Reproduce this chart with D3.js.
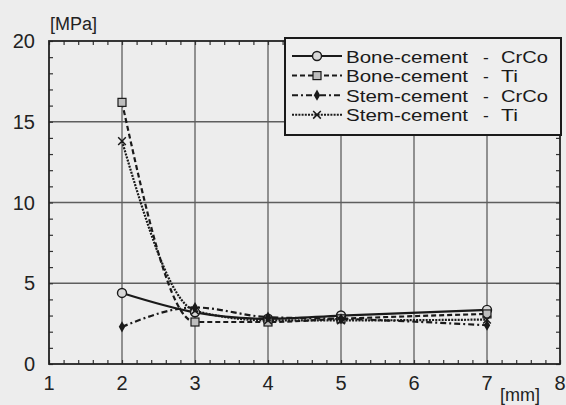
<!DOCTYPE html>
<html>
<head>
<meta charset="utf-8">
<script src="https://cdn.jsdelivr.net/npm/d3@7"></script>
<style>
  body { margin: 0; background: #ededed; }
  svg { display: block; font-family: "Liberation Sans", Arial, sans-serif; }
</style>
</head>
<body>
<svg id="grafico" width="566" height="405"></svg>
<script>
/* Datos */
var distancias = [2, 3, 4, 5, 7]
var boneCrCo = [4.4, 3.2, 2.8, 3.0, 3.35]
var boneTi = [16.2, 2.6, 2.6, 2.8, 3.1]
var stemCrCo = [2.3, 3.5, 2.9, 2.8, 2.4]
var stemTi = [13.8, 3.3, 2.7, 2.7, 2.75]
var ticksX = [1, 2, 3, 4, 5, 6, 7, 8]
var ticksY = [0, 5, 10, 15, 20]
var nombres = ["Bone-cement", "Bone-cement", "Stem-cement", "Stem-cement"]
var materiales = ["CrCo", "Ti", "CrCo", "Ti"]

var series = [
  { valores: boneCrCo, dash: null, marca: "circulo" },
  { valores: boneTi, dash: "5,3", marca: "cuadrado" },
  { valores: stemCrCo, dash: "6,3,2,3", marca: "punto" },
  { valores: stemTi, dash: "2,1.2", marca: "cruz" }
]

var svg = d3.select("#grafico")
var margen = { left: 49, top: 41, right: 560, bottom: 364 }
var x = d3.scaleLinear().domain([1, 8]).range([margen.left, margen.right])
var y = d3.scaleLinear().domain([0, 20]).range([margen.bottom, margen.top])
var colorLinea = "#1a1a1a"

/* Rejilla */
var rejilla = svg.append("g").attr("stroke", "#5e5e5e").attr("stroke-width", 1.3)
rejilla.selectAll("line.vx").data(ticksX.slice(1, -1)).enter().append("line")
  .attr("x1", d => x(d)).attr("x2", d => x(d))
  .attr("y1", margen.top).attr("y2", margen.bottom)
rejilla.selectAll("line.hy").data(ticksY.slice(1, -1)).enter().append("line")
  .attr("y1", d => y(d)).attr("y2", d => y(d))
  .attr("x1", margen.left).attr("x2", margen.right)

/* Ticks menores hacia dentro en los cuatro lados */
var menoresX = d3.range(1, 8.001, 0.2)
var menoresY = d3.range(0, 20.001, 1)
var alto = margen.bottom - margen.top
var ancho = margen.right - margen.left
svg.append("g").attr("transform", "translate(0," + margen.bottom + ")")
  .call(d3.axisBottom(x).tickValues(menoresX).tickSize(-4).tickFormat(""))
svg.append("g").attr("transform", "translate(0," + margen.top + ")")
  .call(d3.axisTop(x).tickValues(menoresX).tickSize(-4).tickFormat(""))
svg.append("g").attr("transform", "translate(" + margen.left + ",0)")
  .call(d3.axisLeft(y).tickValues(menoresY).tickSize(-4).tickFormat(""))
svg.append("g").attr("transform", "translate(" + margen.right + ",0)")
  .call(d3.axisRight(y).tickValues(menoresY).tickSize(-4).tickFormat(""))
svg.selectAll(".domain").remove()
svg.selectAll(".tick line").attr("stroke", "#333").attr("stroke-width", 1.2)

/* Marco */
svg.append("rect")
  .attr("x", margen.left).attr("y", margen.top)
  .attr("width", ancho).attr("height", alto)
  .attr("fill", "none").attr("stroke", "#222").attr("stroke-width", 1.8)

/* Etiquetas de los ejes */
svg.append("g").selectAll("text").data(ticksX).enter().append("text")
  .attr("x", d => x(d)).attr("y", 390)
  .attr("text-anchor", "middle").attr("font-size", 20).attr("fill", "#222")
  .text(d => d)
svg.append("g").selectAll("text").data(ticksY).enter().append("text")
  .attr("x", 35).attr("y", d => y(d) + 7)
  .attr("text-anchor", "end").attr("font-size", 20).attr("fill", "#222")
  .text(d => d)
svg.append("text").attr("x", 50).attr("y", 30).attr("font-size", 18).attr("fill", "#222").text("[MPa]")
svg.append("text").attr("x", 500).attr("y", 401).attr("font-size", 18).attr("fill", "#222").text("[mm]")

/* Marcadores */
function dibujarMarca(g, tipo, cx, cy) {
  if (tipo == "circulo") {
    g.append("circle").attr("cx", cx).attr("cy", cy).attr("r", 4.5)
      .attr("fill", "#d8d8d8").attr("stroke", colorLinea).attr("stroke-width", 1.4)
  } else if (tipo == "cuadrado") {
    g.append("rect").attr("x", cx - 4).attr("y", cy - 4).attr("width", 8).attr("height", 8)
      .attr("fill", "#bdbdbd").attr("stroke", colorLinea).attr("stroke-width", 1.2)
  } else if (tipo == "punto") {
    g.append("path").attr("d", d3.symbol(d3.symbolDiamond, 36)())
      .attr("transform", "translate(" + cx + "," + cy + ")").attr("fill", colorLinea)
  } else {
    g.append("path").attr("d", d3.symbol(d3.symbolX, 40)())
      .attr("transform", "translate(" + cx + "," + cy + ")")
      .attr("fill", "none").attr("stroke", colorLinea).attr("stroke-width", 1.5)
  }
}

/* Lineas */
var linea = d3.line().curve(d3.curveMonotoneX)
  .x((d, i) => x(distancias[i])).y(d => y(d))
series.forEach(s => {
  var g = svg.append("g")
  g.append("path").attr("d", linea(s.valores))
    .attr("fill", "none").attr("stroke", colorLinea).attr("stroke-width", 2.2)
    .attr("stroke-dasharray", s.dash)
  s.valores.forEach((v, i) => dibujarMarca(g, s.marca, x(distancias[i]), y(v)))
})

/* Leyenda */
var leyenda = svg.append("g")
var filaY = 56, pasoFila = 19.6
leyenda.append("rect").attr("x", 285).attr("y", 38).attr("width", 276).attr("height", 97)
  .attr("fill", "#eeeeee").attr("stroke", "#1a1a1a").attr("stroke-width", 2)
series.forEach((s, i) => {
  var yl = filaY + i * pasoFila
  leyenda.append("line").attr("x1", 292).attr("x2", 342).attr("y1", yl).attr("y2", yl)
    .attr("stroke", colorLinea).attr("stroke-width", 2).attr("stroke-dasharray", s.dash)
  dibujarMarca(leyenda, s.marca, 317, yl)
  // letra algo menor pero estirada, para que las filas no se pisen
  var yt = yl + 6.5
  var t = leyenda.append("g").attr("font-size", 17.4).attr("fill", "#1a1a1a")
  t.append("text").attr("x", 346).attr("y", yt)
    .attr("textLength", 122).attr("lengthAdjust", "spacingAndGlyphs").text(nombres[i])
  t.append("text").attr("x", 483).attr("y", yt).text("-")
  t.append("text").attr("x", 501).attr("y", yt)
    .attr("textLength", materiales[i] == "Ti" ? 17 : 47).attr("lengthAdjust", "spacingAndGlyphs")
    .text(materiales[i])
})
</script>
</body>
</html>
